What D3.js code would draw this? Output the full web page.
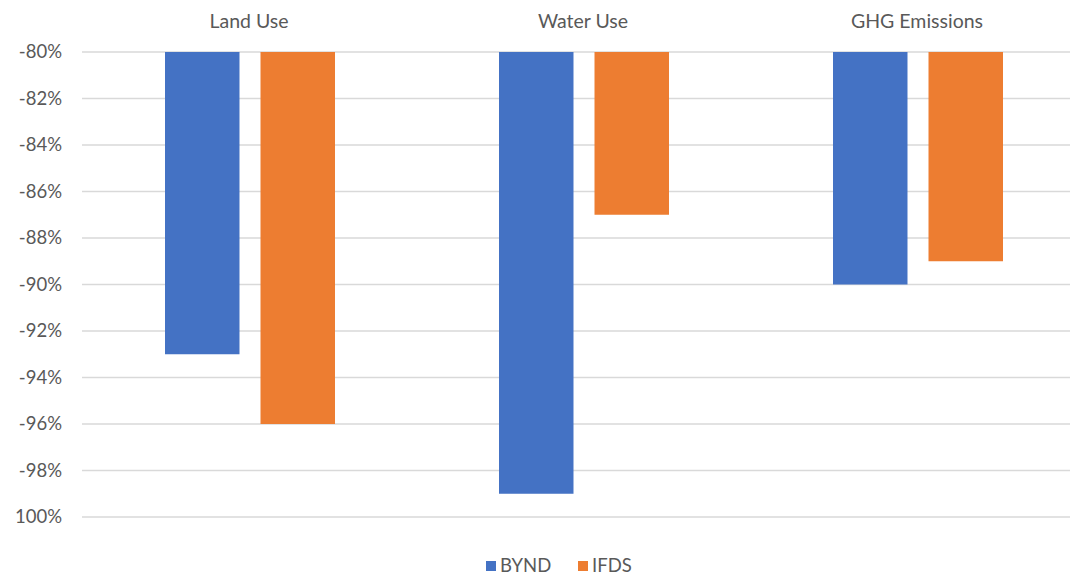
<!DOCTYPE html>
<html><head><meta charset="utf-8">
<script src="https://cdn.jsdelivr.net/npm/d3@7"></script>
<style>body{margin:0;background:#fff;} text{font-family:Lato,"Open Sans",sans-serif;fill:#595959;}</style>
</head><body>
<svg id="c" width="1070" height="577"></svg>
<script>
const categories = ["Land Use", "Water Use", "GHG Emissions"];
const series = ["BYND", "IFDS"];
const bynd = [-93, -99, -90];
const ifds = [-96, -87, -89];
const tickValues = [-80, -82, -84, -86, -88, -90, -92, -94, -96, -98, -100];
const tickLabels = ["-80%", "-82%", "-84%", "-86%", "-88%", "-90%", "-92%", "-94%", "-96%", "-98%", "100%"];
const colors = ["#4472C4", "#ED7D31"];

const svg = d3.select("#c");
const y = d3.scaleLinear().domain([-80, -100]).range([52, 517]);
const x0 = d3.scaleBand().domain(categories).range([82, 1084]).padding(0);
const x1 = d3.scaleBand().domain(series).range([83, 253]).paddingInner(0.22).paddingOuter(0);

// gridlines
svg.append("g").selectAll("line").data(tickValues).join("line")
  .attr("x1", 82).attr("x2", 1070)
  .attr("y1", d => y(d)).attr("y2", d => y(d))
  .attr("stroke", "#d9d9d9").attr("stroke-width", 1.3);

// tick labels
svg.append("g").selectAll("text").data(tickValues).join("text")
  .attr("x", 62).attr("y", d => y(d)).attr("dy", "0.35em")
  .attr("text-anchor", "end").style("font-size", "18.5px")
  .text((d, i) => tickLabels[i]);

// bars
const vals = [bynd, ifds];
series.forEach((s, si) => {
  svg.append("g").selectAll("rect").data(categories).join("rect")
    .attr("x", c => x0(c) + x1(s))
    .attr("width", x1.bandwidth())
    .attr("y", y(-80))
    .attr("height", (c, i) => y(vals[si][i]) - y(-80))
    .attr("fill", colors[si]);
});

// category labels
svg.append("g").selectAll("text").data(categories).join("text")
  .attr("x", c => x0(c) + x0.bandwidth() / 2).attr("y", 28)
  .attr("text-anchor", "middle").style("font-size", "19.5px")
  .text(c => c);

// legend
const legX = [486, 578];
series.forEach((s, i) => {
  svg.append("rect").attr("x", legX[i]).attr("y", 561).attr("width", 10).attr("height", 10).attr("fill", colors[i]);
  svg.append("text").attr("x", legX[i] + 14).attr("y", 566).attr("dy", "0.35em")
    .style("font-size", "18.5px").text(s);
});
</script>
</body></html>
